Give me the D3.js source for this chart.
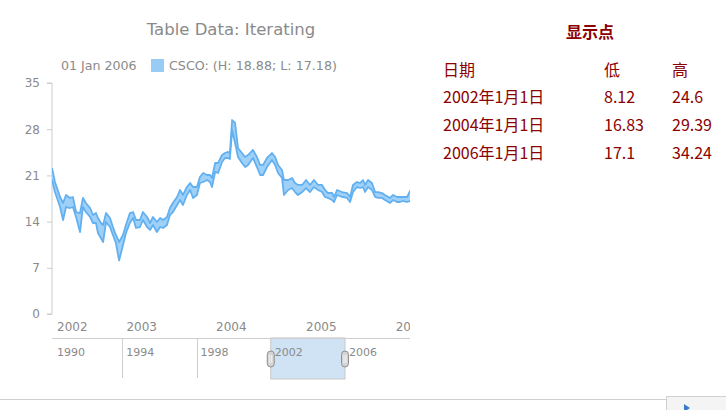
<!DOCTYPE html>
<html>
<head>
<meta charset="utf-8">
<script src="https://cdn.jsdelivr.net/npm/d3@7"></script>
<style>
  body { margin: 0; background: #fff; }
  svg { display: block; }
  .lbl { font-family: "DejaVu Sans", Verdana, sans-serif; }
  .cjk { font-family: "Noto Sans CJK SC", "Noto Sans", sans-serif; }
</style>
</head>
<body>
<svg id="chart" width="726" height="410"></svg>
<script>
// CSCO weekly range (high / low)
const dates = [
  "2002-01-01","2002-01-13","2002-02-03","2002-02-15","2002-02-27","2002-03-15","2002-03-27","2002-04-09",
  "2002-04-25","2002-05-07","2002-05-19","2002-06-05","2002-06-17","2002-06-29","2002-07-07","2002-07-19",
  "2002-07-28","2002-08-09","2002-08-25","2002-09-06","2002-09-18","2002-10-01","2002-10-17","2002-10-29",
  "2002-11-14","2002-11-27","2002-12-09","2002-12-25","2003-01-06","2003-01-23","2003-02-04","2003-02-16",
  "2003-03-04","2003-03-17","2003-03-29","2003-04-14","2003-04-26","2003-05-08","2003-05-25","2003-06-06",
  "2003-06-18","2003-07-04","2003-07-17","2003-07-29","2003-08-14","2003-08-26","2003-09-08","2003-09-24",
  "2003-10-06","2003-10-14","2003-10-27","2003-11-08","2003-11-24","2003-12-06","2003-12-18","2003-12-26",
  "2004-01-04","2004-01-16","2004-01-28","2004-02-13","2004-02-26","2004-03-09","2004-03-29","2004-04-14",
  "2004-04-27","2004-05-09","2004-05-25","2004-06-14","2004-06-27","2004-07-09","2004-07-25","2004-08-02",
  "2004-08-19","2004-09-04","2004-09-16","2004-09-28","2004-10-15","2004-10-31","2004-11-16","2004-12-02",
  "2004-12-19","2005-01-04","2005-01-16","2005-01-28","2005-02-14","2005-02-22","2005-03-06","2005-03-26",
  "2005-04-16","2005-04-28","2005-05-10","2005-05-26","2005-06-08","2005-06-20","2005-06-28","2005-07-10",
  "2005-07-26","2005-08-08","2005-08-20","2005-09-05","2005-09-17","2005-10-08","2005-10-20","2005-11-05",
  "2005-11-17","2005-11-30","2005-12-16","2006-01-01"
];
const highs = [
  22.12,20.0,17.73,16.82,18.03,17.58,17.73,15.45,15.30,17.58,16.82,16.06,15.0,15.30,14.55,13.79,
  13.48,15.30,14.55,13.18,11.97,10.91,11.97,13.48,15.30,15.45,14.24,14.24,15.45,14.70,13.79,14.70,
  13.94,14.55,14.24,14.70,16.06,16.82,17.73,18.79,18.03,19.24,19.85,19.24,19.24,20.76,21.36,21.06,
  21.06,20.61,22.88,22.88,24.09,24.39,24.55,24.39,29.39,28.94,25.15,24.39,23.79,24.09,24.85,23.79,
  22.58,22.58,23.64,24.39,23.79,22.58,21.82,20.30,20.30,20.61,19.85,19.55,19.55,20.30,19.55,20.30,
  19.55,19.55,18.79,18.33,18.33,17.73,18.79,18.48,18.33,17.73,19.55,20.0,19.85,20.30,19.55,20.30,
  19.85,18.48,18.48,18.33,18.03,17.58,18.03,17.73,17.73,17.73,17.73,18.88
];
const lows = [
  20.30,18.48,16.21,14.24,16.21,16.06,16.21,14.70,12.42,16.21,15.45,14.70,13.79,13.79,12.27,11.52,
  10.91,13.94,13.18,11.97,10.76,8.12,10.45,12.27,13.79,14.55,13.03,13.18,14.24,13.18,12.73,13.48,
  12.42,13.18,13.03,13.48,15.0,15.45,16.52,17.27,16.52,18.03,18.79,17.58,18.03,19.85,20.0,20.30,
  20.0,19.24,21.52,21.36,23.03,23.64,23.64,23.48,27.88,25.91,23.79,22.88,22.27,22.58,23.64,22.27,
  21.06,21.06,22.27,23.33,22.58,21.36,20.61,18.03,18.79,19.09,18.48,18.03,18.48,19.09,18.48,19.24,
  18.79,18.48,17.73,17.58,17.27,16.97,18.03,17.73,17.58,16.97,18.48,19.24,19.09,19.24,18.48,19.24,
  18.79,17.73,17.58,17.58,17.27,16.82,17.27,16.97,16.97,17.12,16.97,17.18
];
const yTicks = [0, 7, 14, 21, 28, 35];
const xYears = ["2002", "2003", "2004", "2005", "2006"];
const navYears = ["1990", "1994", "1998", "2002", "2006"];

// table on the right
const tableTitle = "显示点";
const tableHead = ["日期", "低", "高"];
const tableRows = [
  ["2002年1月1日", "8.12", "24.6"],
  ["2004年1月1日", "16.83", "29.39"],
  ["2006年1月1日", "17.1", "34.24"]
];

const parse = d3.timeParse("%Y-%m-%d");
const data = dates.map((d, i) => ({ date: parse(d), high: highs[i], low: lows[i] }));

const svg = d3.select("#chart");
const grey = "#8a8a8a";

const plot = { left: 52, right: 411, top: 83, bottom: 314 };

const x = d3.scaleTime()
  .domain([parse("2002-01-01"), parse("2006-01-01")])
  .range([plot.left, plot.right]);
const y = d3.scaleLinear().domain([0, 35]).range([plot.bottom, plot.top]);

// titre
svg.append("text").attr("class", "lbl")
  .attr("x", 231).attr("y", 35)
  .attr("text-anchor", "middle")
  .attr("font-size", 16.5)
  .attr("fill", grey)
  .text("Table Data: Iterating");

// legende
const last = data[data.length - 1];
svg.append("text").attr("class", "lbl")
  .attr("x", 61).attr("y", 70)
  .attr("font-size", 12.6).attr("fill", grey)
  .text(d3.timeFormat("%d %b %Y")(last.date));
svg.append("rect")
  .attr("x", 151).attr("y", 59).attr("width", 13).attr("height", 13)
  .attr("fill", "#99ccf5");
svg.append("text").attr("class", "lbl")
  .attr("x", 169).attr("y", 70)
  .attr("font-size", 12.7).attr("fill", grey)
  .text(`CSCO: (H: ${last.high}; L: ${last.low})`);

// axe Y
const yAxis = svg.append("g")
  .attr("transform", `translate(${plot.left},0)`)
  .call(d3.axisLeft(y).tickValues(yTicks).tickSize(5).tickPadding(7));
yAxis.select(".domain").attr("stroke", "#ccc").attr("d", `M-5,${plot.top}H0V${plot.bottom}H-5`);
yAxis.selectAll(".tick line").attr("stroke", "#ccc");
yAxis.selectAll(".tick text").attr("class", "lbl")
  .attr("font-family", null).attr("font-size", 12).attr("fill", grey);

// zone haute / basse
svg.append("clipPath").attr("id", "clip")
  .append("rect").attr("x", plot.left).attr("y", 0)
  .attr("width", plot.right - plot.left - 1).attr("height", 340);

const g = svg.append("g").attr("clip-path", "url(#clip)");
g.append("path")
  .datum(data)
  .attr("fill", "#9fd0f7")
  .attr("d", d3.area().x(d => x(d.date)).y0(d => y(d.low)).y1(d => y(d.high)));
["high", "low"].forEach(k => {
  g.append("path")
    .datum(data)
    .attr("fill", "none")
    .attr("stroke", "#62b0f0")
    .attr("stroke-width", 1.8)
    .attr("stroke-linejoin", "round")
    .attr("d", d3.line().x(d => x(d.date)).y(d => y(d[k])));
});

// axe X (labels only)
const xl = svg.append("g").attr("clip-path", "url(#clip)");
xYears.forEach((yr, i) => {
  const px = x(parse(yr + "-01-01"));
  xl.append("text").attr("class", "lbl")
    .attr("x", i === 0 ? px + 5 : px)
    .attr("y", 331)
    .attr("text-anchor", i === 0 ? "start" : "middle")
    .attr("font-size", 12).attr("fill", grey)
    .text(yr);
});

// navigateur
const nx = d3.scaleTime()
  .domain([parse("1990-01-01"), parse("2006-01-01")])
  .range([48, 345]);
const nav = { top: 338, bottom: 379 };
const selL = nx(parse("2002-01-01")), selR = nx(parse("2006-01-01"));
svg.append("rect")
  .attr("x", selL).attr("y", nav.top).attr("width", selR - selL).attr("height", nav.bottom - nav.top)
  .attr("fill", "#d0e3f4").attr("stroke", "#c8c8c8").attr("stroke-width", 1);
svg.append("line")
  .attr("x1", plot.left).attr("x2", 410).attr("y1", nav.top + 0.5).attr("y2", nav.top + 0.5)
  .attr("stroke", "#cfcfcf");
navYears.forEach((yr, i) => {
  const px = nx(parse(yr + "-01-01"));
  if (i > 0 && yr !== "2002" && yr !== "2006") {
    svg.append("line")
      .attr("x1", Math.round(px) + 0.5).attr("x2", Math.round(px) + 0.5)
      .attr("y1", nav.top).attr("y2", nav.bottom - 1)
      .attr("stroke", "#cfcfcf");
  }
  svg.append("text").attr("class", "lbl")
    .attr("x", px + (i === 0 ? 9 : 4)).attr("y", 356)
    .attr("font-size", 11).attr("fill", grey)
    .text(yr);
});
[selL, selR].forEach(px => {
  const h = svg.append("g").attr("transform", `translate(${px},359)`);
  h.append("rect").attr("x", -3.5).attr("y", -8).attr("width", 7).attr("height", 16).attr("rx", 3.5)
    .attr("fill", "#d4d4d4").attr("stroke", "#8f8f8f");
  [-1, 1].forEach(o => h.append("line")
    .attr("x1", o).attr("x2", o).attr("y1", -4).attr("y2", 4)
    .attr("stroke", "#f4f4f4"));
});

// barre du bas
svg.append("line")
  .attr("x1", 0).attr("x2", 666).attr("y1", 399.5).attr("y2", 399.5).attr("stroke", "#d0d0d0");
svg.append("rect")
  .attr("x", 666.5).attr("y", 396.5).attr("width", 60).attr("height", 20)
  .attr("fill", "#f4f4f4").attr("stroke", "#d0d0d0");
svg.append("path").attr("d", "M684,404L690,408L684,412Z").attr("fill", "#3a7cc9");

// tableau
const red = "#8b0000";
svg.append("text").attr("class", "cjk")
  .attr("x", 590).attr("y", 38).attr("text-anchor", "middle")
  .attr("font-size", 16).attr("font-weight", "bold")
  .attr("fill", red).text(tableTitle);
const cols = [443, 604, 672];
const rowY = [76, 103, 131, 159];
[tableHead].concat(tableRows).forEach((row, r) => {
  row.forEach((cell, c) => {
    svg.append("text").attr("class", "cjk")
      .attr("x", cols[c]).attr("y", rowY[r])
      .attr("font-size", 16)
      .attr("fill", red).text(cell);
  });
});
</script>
</body>
</html>
